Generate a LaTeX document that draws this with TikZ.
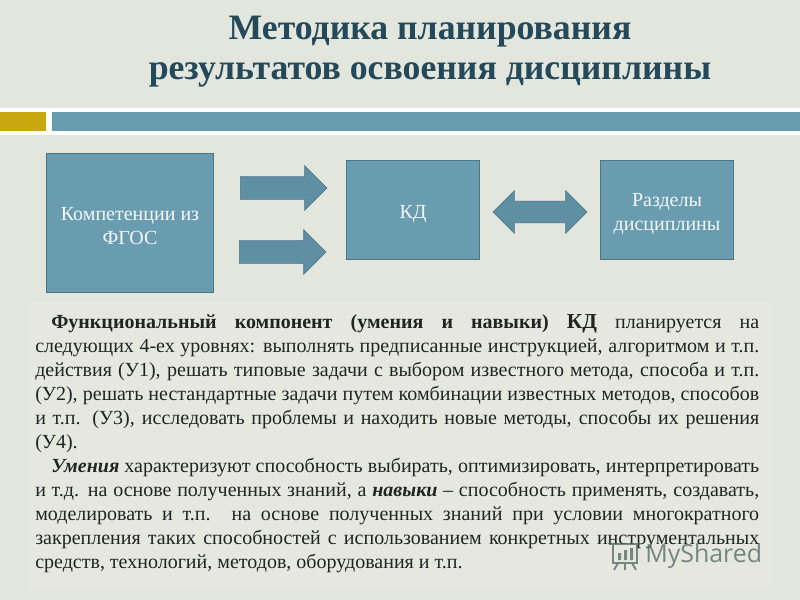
\documentclass[tikz,border=0pt]{standalone}
\usepackage{fontspec}
\setmainfont{Liberation Serif}
\newfontfamily\logofont{Open Sans}
\usetikzlibrary{shapes.arrows}

\definecolor{slidebg}{HTML}{E3E6DD}
\definecolor{textbg}{HTML}{E6E8E0}
\definecolor{boxteal}{HTML}{6A9CB0}
\definecolor{boxedge}{HTML}{4C7586}
\definecolor{arrowteal}{HTML}{5F8FA3}
\definecolor{stripgold}{HTML}{C9A80F}
\definecolor{titleink}{HTML}{24495A}
\definecolor{bodyink}{HTML}{202522}
\definecolor{logoink}{HTML}{4E6660}

\tikzset{
	stepbox/.style={draw=boxedge, fill=boxteal, line width=.8pt, inner sep=0pt, align=center,
		text=white!92!boxteal, font=\fontsize{15}{18}\selectfont},
	blockarrow/.style={single arrow, fill=arrowteal, draw=boxedge, line width=.5pt, inner xsep=0pt, inner ysep=8.25pt,
		single arrow head extend=8.25pt, single arrow tip angle=90, single arrow head indent=0pt, minimum height=65pt},
	titleline/.style={font=\fontsize{26.8}{30}\selectfont\bfseries, text=titleink, inner sep=0pt},
}

\begin{document}
\begin{tikzpicture}[x=.75pt, y=-.75pt]
	\useasboundingbox (0, 0) rectangle (800, 600);
	\fill[slidebg] (0, 0) rectangle (800, 600);
	\fill[textbg] (30, 303) rectangle (772, 590);

	% strip under the title
	\fill[white] (0, 108) rectangle (800, 135);
	\fill[stripgold] (0, 112) rectangle (46, 131);
	\fill[boxteal] (52, 112) rectangle (800, 131);

	\node[titleline] (line1) at (430, 32) {Методика планирования};
	\node[titleline] (line2) at (430, 75) {результатов освоения дисциплины};

	\node[stepbox, text height=33pt, minimum width=125pt, minimum height=104pt] (fgos) at (130, 223) {Компетенции из\\ФГОС};
	\node[stepbox, text height=16pt, minimum width=99.5pt, minimum height=74pt] (kd) at (413, 210) {КД};
	\node[stepbox, text height=33pt, minimum width=99.5pt, minimum height=74pt] (parts) at (667, 210) {Разделы\\дисциплины};

	\node[blockarrow, anchor=tail] (upper) at (240, 188) {};
	\node[blockarrow, anchor=tail] (lower) at (239, 252) {};
	\node[double arrow, fill=arrowteal, draw=boxedge, line width=.5pt, inner xsep=0pt, double arrow head extend=7.9pt, double arrow tip angle=90, double arrow head indent=0pt,
		inner ysep=7.9pt, minimum height=70.5pt] (both) at (540, 212) {};

	\node[anchor=north west, inner sep=0pt, text width=543pt, align=justify, text=bodyink,
		font=\fontsize{15}{18}\selectfont] (body) at (35, 314.5) {%
		\hspace*{12pt}{\bfseries Функциональный компонент (умения и навыки) {\fontsize{16}{18}\selectfont КД}} планируется на\break
		следующих 4-ех уровнях: выполнять предписанные инструкцией, алгоритмом и т.п.\break
		действия (У1), решать типовые задачи с выбором известного метода, способа и т.п.\break
		(У2), решать нестандартные задачи путем комбинации известных методов, способов\break
		и т.п. (У3), исследовать проблемы и находить новые методы, способы их решения\break
		(У4).\par
		\hspace*{12pt}{\bfseries\itshape Умения} характеризуют способность выбирать, оптимизировать, интерпретировать\break
		и т.д. на основе полученных знаний, а {\bfseries\itshape навыки} -- способность применять, создавать,\break
		моделировать и т.п. на основе полученных знаний при условии многократного\break
		закрепления таких способностей с использованием конкретных инструментальных\break
		средств, технологий, методов, оборудования и т.п.};

	% watermark
	\node[anchor=west, inner sep=0pt, text=logoink, opacity=.75, font=\logofont\fontsize{18.7}{24}\selectfont] (mark) at (645, 556) {MyShared};
	\draw[logoink, line width=1.4pt, opacity=.75] (609, 544) -- (640, 544) (613, 544) rectangle (637, 563)
		(618, 563) -- (614, 570) (632, 563) -- (636, 570) (625, 563) -- (625, 570);
	\fill[logoink, opacity=.75] (618, 553) rectangle (621, 560) (624, 550) rectangle (627, 560) (630, 548) rectangle (633, 560);
\end{tikzpicture}
\end{document}
